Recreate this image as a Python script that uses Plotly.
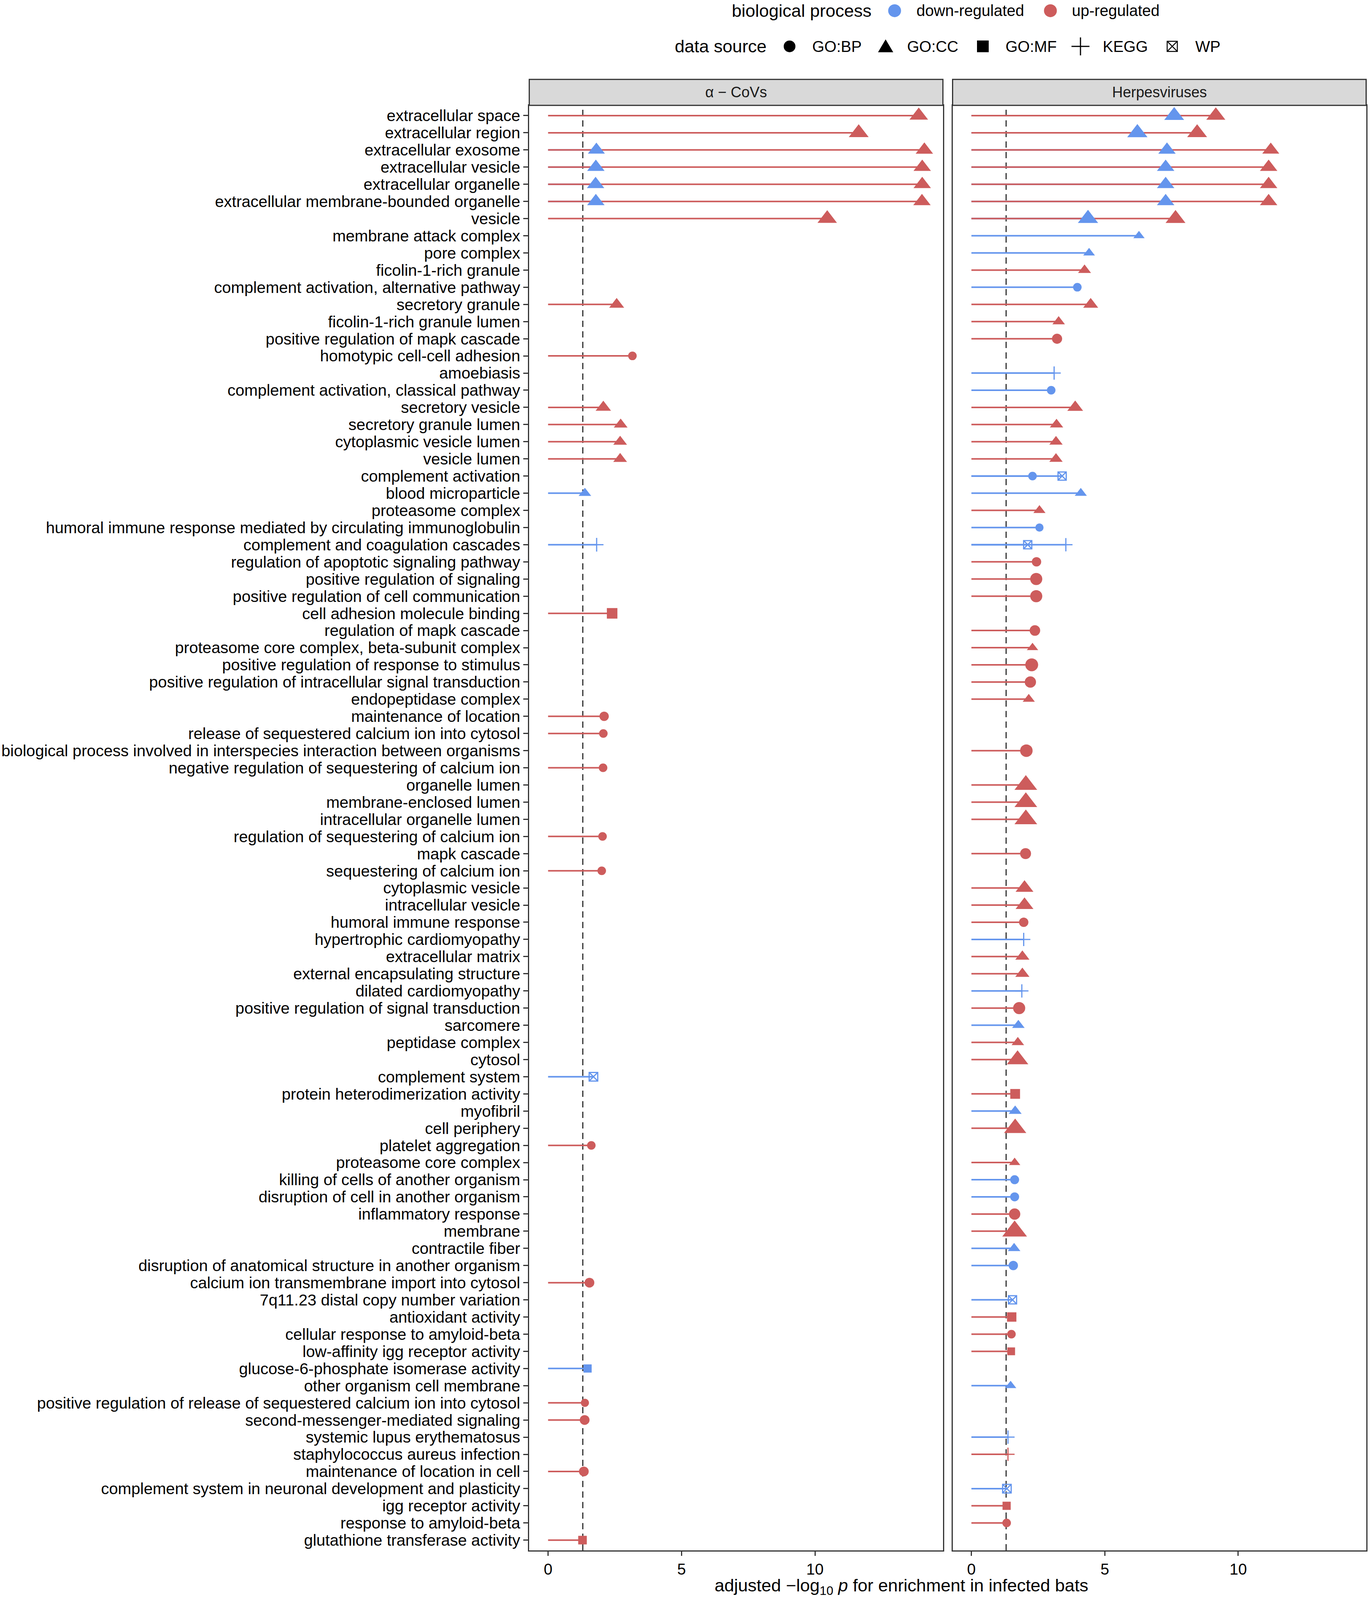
import math
import plotly.graph_objects as go

# reference frame (layout is designed in this frame and expressed as fractions)
W, H = 3511, 4937
FONT = "Liberation Sans, Arial, Helvetica, sans-serif"

# ---------------- data ----------------
terms = [
    "extracellular space", "extracellular region", "extracellular exosome", "extracellular vesicle",
    "extracellular organelle", "extracellular membrane-bounded organelle", "vesicle",
    "membrane attack complex", "pore complex", "ficolin-1-rich granule",
    "complement activation, alternative pathway", "secretory granule", "ficolin-1-rich granule lumen",
    "positive regulation of mapk cascade", "homotypic cell-cell adhesion", "amoebiasis",
    "complement activation, classical pathway", "secretory vesicle", "secretory granule lumen",
    "cytoplasmic vesicle lumen", "vesicle lumen", "complement activation", "blood microparticle",
    "proteasome complex", "humoral immune response mediated by circulating immunoglobulin",
    "complement and coagulation cascades", "regulation of apoptotic signaling pathway",
    "positive regulation of signaling", "positive regulation of cell communication",
    "cell adhesion molecule binding", "regulation of mapk cascade",
    "proteasome core complex, beta-subunit complex", "positive regulation of response to stimulus",
    "positive regulation of intracellular signal transduction", "endopeptidase complex",
    "maintenance of location", "release of sequestered calcium ion into cytosol",
    "biological process involved in interspecies interaction between organisms",
    "negative regulation of sequestering of calcium ion", "organelle lumen", "membrane-enclosed lumen",
    "intracellular organelle lumen", "regulation of sequestering of calcium ion", "mapk cascade",
    "sequestering of calcium ion", "cytoplasmic vesicle", "intracellular vesicle",
    "humoral immune response", "hypertrophic cardiomyopathy", "extracellular matrix",
    "external encapsulating structure", "dilated cardiomyopathy",
    "positive regulation of signal transduction", "sarcomere", "peptidase complex", "cytosol",
    "complement system", "protein heterodimerization activity", "myofibril", "cell periphery",
    "platelet aggregation", "proteasome core complex", "killing of cells of another organism",
    "disruption of cell in another organism", "inflammatory response", "membrane",
    "contractile fiber", "disruption of anatomical structure in another organism",
    "calcium ion transmembrane import into cytosol", "7q11.23 distal copy number variation",
    "antioxidant activity", "cellular response to amyloid-beta", "low-affinity igg receptor activity",
    "glucose-6-phosphate isomerase activity", "other organism cell membrane",
    "positive regulation of release of sequestered calcium ion into cytosol",
    "second-messenger-mediated signaling", "systemic lupus erythematosus",
    "staphylococcus aureus infection", "maintenance of location in cell",
    "complement system in neuronal development and plasticity", "igg receptor activity",
    "response to amyloid-beta", "glutathione transferase activity",
]

panel_names = ["α − CoVs", "Herpesviruses"]
x_ticks = [0, 5, 10]
p_threshold = 0.05

# alpha-CoVs
cov_term = [
    "extracellular space", "extracellular region",
    "extracellular exosome", "extracellular exosome",
    "extracellular vesicle", "extracellular vesicle",
    "extracellular organelle", "extracellular organelle",
    "extracellular membrane-bounded organelle", "extracellular membrane-bounded organelle",
    "vesicle", "secretory granule", "homotypic cell-cell adhesion", "secretory vesicle",
    "secretory granule lumen", "cytoplasmic vesicle lumen", "vesicle lumen", "blood microparticle",
    "complement and coagulation cascades", "cell adhesion molecule binding", "maintenance of location",
    "release of sequestered calcium ion into cytosol", "negative regulation of sequestering of calcium ion",
    "regulation of sequestering of calcium ion", "sequestering of calcium ion", "complement system",
    "platelet aggregation", "calcium ion transmembrane import into cytosol",
    "glucose-6-phosphate isomerase activity",
    "positive regulation of release of sequestered calcium ion into cytosol",
    "second-messenger-mediated signaling", "maintenance of location in cell",
    "glutathione transferase activity",
]
cov_value = [13.89, 11.64, 1.81, 14.10, 1.79, 14.02, 1.78, 14.02, 1.79, 14.01, 10.46, 2.57, 3.16,
             2.07, 2.72, 2.70, 2.70, 1.38, 1.82, 2.40, 2.10, 2.07, 2.06, 2.04, 2.01, 1.70, 1.62,
             1.55, 1.48, 1.38, 1.37, 1.34, 1.29]
cov_direction = ["up", "up", "down", "up", "down", "up", "down", "up", "down", "up", "up", "up", "up",
                 "up", "up", "up", "up", "down", "down", "up", "up", "up", "up", "up", "up", "down",
                 "up", "up", "down", "up", "up", "up", "up"]
cov_source = ["GO:CC", "GO:CC", "GO:CC", "GO:CC", "GO:CC", "GO:CC", "GO:CC", "GO:CC", "GO:CC", "GO:CC",
              "GO:CC", "GO:CC", "GO:BP", "GO:CC", "GO:CC", "GO:CC", "GO:CC", "GO:CC", "KEGG", "GO:MF",
              "GO:BP", "GO:BP", "GO:BP", "GO:BP", "GO:BP", "WP", "GO:BP", "GO:BP", "GO:MF", "GO:BP",
              "GO:BP", "GO:BP", "GO:MF"]
cov_size = [4.6, 4.9, 4.2, 4.3, 4.3, 4.3, 4.3, 4.3, 4.3, 4.3, 4.8, 3.7, 2.2, 3.8, 3.4, 3.4, 3.4, 3.1,
            3.5, 2.7, 2.4, 2.2, 2.2, 2.2, 2.2, 2.5, 2.2, 2.5, 2.1, 2.1, 2.5, 2.5, 2.2]

# Herpesviruses
her_term = [
    "extracellular space", "extracellular space", "extracellular region", "extracellular region",
    "extracellular exosome", "extracellular exosome", "extracellular vesicle", "extracellular vesicle",
    "extracellular organelle", "extracellular organelle",
    "extracellular membrane-bounded organelle", "extracellular membrane-bounded organelle",
    "vesicle", "vesicle", "membrane attack complex", "pore complex", "ficolin-1-rich granule",
    "complement activation, alternative pathway", "secretory granule", "ficolin-1-rich granule lumen",
    "positive regulation of mapk cascade", "amoebiasis", "complement activation, classical pathway",
    "secretory vesicle", "secretory granule lumen", "cytoplasmic vesicle lumen", "vesicle lumen",
    "complement activation", "complement activation", "blood microparticle", "proteasome complex",
    "humoral immune response mediated by circulating immunoglobulin",
    "complement and coagulation cascades", "complement and coagulation cascades",
    "regulation of apoptotic signaling pathway", "positive regulation of signaling",
    "positive regulation of cell communication", "regulation of mapk cascade",
    "proteasome core complex, beta-subunit complex", "positive regulation of response to stimulus",
    "positive regulation of intracellular signal transduction", "endopeptidase complex",
    "biological process involved in interspecies interaction between organisms", "organelle lumen",
    "membrane-enclosed lumen", "intracellular organelle lumen", "mapk cascade", "cytoplasmic vesicle",
    "intracellular vesicle", "humoral immune response", "hypertrophic cardiomyopathy",
    "extracellular matrix", "external encapsulating structure", "dilated cardiomyopathy",
    "positive regulation of signal transduction", "sarcomere", "peptidase complex", "cytosol",
    "protein heterodimerization activity", "myofibril", "cell periphery", "proteasome core complex",
    "killing of cells of another organism", "disruption of cell in another organism",
    "inflammatory response", "membrane", "contractile fiber",
    "disruption of anatomical structure in another organism", "7q11.23 distal copy number variation",
    "antioxidant activity", "cellular response to amyloid-beta", "low-affinity igg receptor activity",
    "other organism cell membrane", "systemic lupus erythematosus", "staphylococcus aureus infection",
    "complement system in neuronal development and plasticity", "igg receptor activity",
    "response to amyloid-beta",
]
her_value = [7.60, 9.16, 6.22, 8.46, 7.33, 11.22, 7.28, 11.14, 7.28, 11.14, 7.28, 11.14, 4.37, 7.65,
             6.28, 4.41, 4.24, 3.97, 4.47, 3.27, 3.21, 3.10, 2.99, 3.89, 3.19, 3.17, 3.17, 2.29, 3.40,
             4.10, 2.55, 2.55, 2.11, 3.54, 2.44, 2.43, 2.43, 2.38, 2.29, 2.26, 2.21, 2.15, 2.06, 2.04,
             2.04, 2.04, 2.03, 1.99, 1.99, 1.96, 1.96, 1.91, 1.91, 1.89, 1.79, 1.76, 1.74, 1.73, 1.64,
             1.64, 1.64, 1.62, 1.62, 1.62, 1.62, 1.62, 1.60, 1.57, 1.54, 1.51, 1.50, 1.49, 1.47, 1.37,
             1.37, 1.33, 1.32, 1.32]
her_direction = ["down", "up", "down", "up", "down", "up", "down", "up", "down", "up", "down", "up",
                 "down", "up", "down", "down", "up", "down", "up", "up", "up", "down", "down", "up",
                 "up", "up", "up", "down", "down", "down", "up", "down", "down", "down", "up", "up",
                 "up", "up", "up", "up", "up", "up", "up", "up", "up", "up", "up", "up", "up", "up",
                 "down", "up", "up", "down", "up", "down", "up", "up", "up", "down", "up", "up",
                 "down", "down", "up", "up", "down", "down", "down", "up", "up", "up", "down", "down",
                 "up", "down", "up", "up"]
her_source = ["GO:CC"] * 17 + [
    "GO:BP", "GO:CC", "GO:CC", "GO:BP", "KEGG", "GO:BP", "GO:CC", "GO:CC", "GO:CC", "GO:CC",
    "GO:BP", "WP", "GO:CC", "GO:CC", "GO:BP", "WP", "KEGG", "GO:BP", "GO:BP", "GO:BP", "GO:BP",
    "GO:CC", "GO:BP", "GO:BP", "GO:CC", "GO:BP", "GO:CC", "GO:CC", "GO:CC", "GO:BP", "GO:CC",
    "GO:CC", "GO:BP", "KEGG", "GO:CC", "GO:CC", "KEGG", "GO:BP", "GO:CC", "GO:CC", "GO:CC",
    "GO:MF", "GO:CC", "GO:CC", "GO:CC", "GO:BP", "GO:BP", "GO:BP", "GO:CC", "GO:CC", "GO:BP",
    "WP", "GO:MF", "GO:BP", "GO:MF", "GO:CC", "KEGG", "KEGG", "WP", "GO:MF", "GO:BP"]
her_size = [4.9, 4.7, 5.0, 4.9, 4.3, 4.2, 4.3, 4.3, 4.3, 4.3, 4.3, 4.3, 5.0, 4.9, 2.8, 2.9, 3.2,
            2.2, 3.7, 3.1, 2.6, 3.4, 2.2, 3.9, 3.3, 3.3, 3.3, 2.2, 2.4, 3.0, 3.0, 2.1, 2.4, 3.4,
            2.4, 3.1, 3.1, 2.7, 2.8, 3.3, 2.9, 3.0, 3.2, 5.6, 5.6, 5.6, 2.8, 4.4, 4.4, 2.4, 3.4,
            3.5, 3.5, 3.4, 3.1, 3.1, 3.1, 5.3, 2.5, 3.2, 5.5, 2.8, 2.3, 2.3, 2.9, 6.1, 3.1, 2.4,
            2.4, 2.4, 2.2, 2.0, 2.8, 3.4, 3.4, 2.5, 2.1, 2.2]

# ---------------- styles ----------------
DIR_COLOR = {"down": "#6495ED", "up": "#CD5C5C"}
DIR_LABEL = {"down": "down-regulated", "up": "up-regulated"}
SOURCES = ["GO:BP", "GO:CC", "GO:MF", "KEGG", "WP"]
SYMBOL = {"GO:BP": "circle", "GO:CC": "triangle-up", "GO:MF": "square",
          "KEGG": "cross-thin-open", "WP": "square-x-open"}


def marker_px(src, s):
    w = s * 10.0
    if src == "GO:CC":
        return w * 0.9
    if src == "KEGG":
        return w / 1.4
    if src == "WP":
        return w - 3
    return w


def px_x(v):
    return v / W


def px_y(v):
    return 1 - v / H


panel_x_px = [(1355.4, 2414.7), (2439.5, 3498.6)]
panel_top_px, panel_bottom_px = 325, 4784
strip_top_px = 245

fig = go.Figure()

panels = [
    (cov_term, cov_value, cov_direction, cov_source, cov_size, "x", "y"),
    (her_term, her_value, her_direction, her_source, her_size, "x2", "y2"),
]

for terms_p, vals, dirs, srcs, sizes, xa, ya in panels:
    for d in ["down", "up"]:
        xs, ys = [], []
        for t, v, dd in zip(terms_p, vals, dirs):
            if dd == d:
                xs += [0, v, None]
                ys += [t, t, None]
        fig.add_trace(go.Scatter(x=xs, y=ys, mode="lines", xaxis=xa, yaxis=ya,
                                 line=dict(color=DIR_COLOR[d], width=4),
                                 hoverinfo="skip", showlegend=False))
    for d in ["down", "up"]:
        for s in SOURCES:
            idx = [i for i in range(len(vals)) if dirs[i] == d and srcs[i] == s]
            if not idx:
                continue
            is_open = s in ("KEGG", "WP")
            fig.add_trace(go.Scatter(
                x=[vals[i] for i in idx], y=[terms_p[i] for i in idx],
                mode="markers", xaxis=xa, yaxis=ya,
                name=f"{DIR_LABEL[d]} {s}",
                marker=dict(symbol=SYMBOL[s], color=DIR_COLOR[d], opacity=1,
                            size=[marker_px(s, sizes[i]) for i in idx],
                            line=dict(color=DIR_COLOR[d], width=3 if is_open else 0)),
                showlegend=False, cliponaxis=False))

axis_common = dict(showgrid=False, zeroline=False, showline=True, mirror=True,
                   linecolor="#333333", linewidth=3)
xrange = [-0.705, 14.795]
yrange = [len(terms) - 1 + 0.6, -0.6]
ydom = [px_y(panel_bottom_px), px_y(panel_top_px)]
xtick_font = dict(size=40, color="black")

fig.update_layout(
    autosize=True,
    margin=dict(l=0, r=0, t=0, b=0, autoexpand=False),
    paper_bgcolor="white", plot_bgcolor="white",
    showlegend=False,
    font=dict(family=FONT, color="black"),
    xaxis=dict(domain=[px_x(panel_x_px[0][0]), px_x(panel_x_px[0][1])], range=xrange,
               anchor="y", tickmode="array", tickvals=x_ticks, ticks="outside", ticklen=11,
               tickwidth=3, tickcolor="#333333", tickfont=xtick_font,
               automargin=False, **axis_common),
    xaxis2=dict(domain=[px_x(panel_x_px[1][0]), px_x(panel_x_px[1][1])], range=xrange,
                anchor="y2", tickmode="array", tickvals=x_ticks, ticks="outside", ticklen=11,
                tickwidth=3, tickcolor="#333333", tickfont=xtick_font,
                automargin=False, **axis_common),
    yaxis=dict(domain=ydom, type="category", categoryorder="array", categoryarray=terms,
               range=yrange, anchor="x", tickmode="array", tickvals=terms, ticktext=terms,
               ticks="outside", ticklen=12, tickwidth=3, tickcolor="#333333",
               tickfont=dict(size=41, color="black"), automargin=False, **axis_common),
    yaxis2=dict(domain=ydom, type="category", categoryorder="array", categoryarray=terms,
                range=yrange, anchor="x2", matches="y", showticklabels=False, ticks="",
                automargin=False, **axis_common),
)

shapes = []
annotations = []
thr = -math.log10(p_threshold)
for xa, ya in [("x", "y"), ("x2", "y2")]:
    shapes.append(dict(type="line", xref=xa, yref=f"{ya} domain",
                       x0=thr, x1=thr, y0=0, y1=1, layer="below",
                       line=dict(color="#333333", width=3, dash="16px,11px")))

for (x0, x1), name in zip(panel_x_px, panel_names):
    shapes.append(dict(type="rect", xref="paper", yref="paper",
                       x0=px_x(x0), x1=px_x(x1), y0=px_y(panel_top_px), y1=px_y(strip_top_px),
                       fillcolor="#D9D9D9", line=dict(color="#333333", width=3), layer="above"))
    annotations.append(dict(text=name, xref="paper", yref="paper",
                            x=px_x((x0 + x1) / 2), y=px_y((panel_top_px + strip_top_px) / 2),
                            xanchor="center", yanchor="middle", showarrow=False,
                            font=dict(size=38, color="#1A1A1A", family=FONT)))

annotations.append(dict(
    text="adjusted −log<sub>10</sub> <i>p</i> for enrichment in infected bats",
    xref="paper", yref="paper", x=px_x(2308), y=px_y(4896), xanchor="center", yanchor="middle",
    showarrow=False, font=dict(size=45, color="black", family=FONT)))


# ---------------- legend (drawn with pixel-sized glyphs) ----------------
def legend_text(txt, x, y, size):
    annotations.append(dict(text=txt, xref="paper", yref="paper", x=px_x(x), y=px_y(y),
                            xanchor="left", yanchor="middle", showarrow=False,
                            font=dict(size=size, color="black", family=FONT)))


def glyph(kind, cx, cy, **kw):
    base = dict(xref="paper", yref="paper", xsizemode="pixel", ysizemode="pixel",
                xanchor=px_x(cx), yanchor=px_y(cy))
    base.update(kw)
    base["type"] = kind
    shapes.append(base)


ROW1, ROW2 = 33, 143
LT, LI = 45, 40
legend_text("biological process", 1872, ROW1, LT)
glyph("circle", 2291, ROW1, x0=-16.5, x1=16.5, y0=-16.5, y1=16.5,
      fillcolor=DIR_COLOR["down"], line=dict(width=0))
legend_text(DIR_LABEL["down"], 2345, ROW1, LI)
glyph("circle", 2690, ROW1, x0=-16.5, x1=16.5, y0=-16.5, y1=16.5,
      fillcolor=DIR_COLOR["up"], line=dict(width=0))
legend_text(DIR_LABEL["up"], 2743, ROW1, LI)

legend_text("data source", 1726, ROW2, LT)
glyph("circle", 2022, ROW2, x0=-15, x1=15, y0=-15, y1=15, fillcolor="black", line=dict(width=0))
legend_text("GO:BP", 2078, ROW2, LI)
glyph("path", 2268, ROW2, path="M -19.5,-15 L 19.5,-15 L 0,18 Z", fillcolor="black",
      line=dict(width=0))
legend_text("GO:CC", 2321, ROW2, LI)
glyph("rect", 2517, ROW2, x0=-15, x1=15, y0=-15, y1=15, fillcolor="black", line=dict(width=0))
legend_text("GO:MF", 2573, ROW2, LI)
glyph("path", 2767, ROW2, path="M -23,0 L 23,0 M 0,-23 L 0,23", line=dict(color="black", width=3))
legend_text("KEGG", 2822, ROW2, LI)
glyph("path", 3002, ROW2, path="M -13,-13 L 13,-13 L 13,13 L -13,13 Z M -13,-13 L 13,13 M -13,13 L 13,-13",
      line=dict(color="black", width=2.5))
legend_text("WP", 3059, ROW2, LI)

fig.update_layout(shapes=shapes, annotations=annotations)

post = """
document.documentElement.style.margin='0';
document.body.style.margin='0';
document.body.style.overflow='hidden';
var gd = document.getElementById('{plot_id}');
gd.style.width='100vw'; gd.style.height='100vh';
Plotly.Plots.resize(gd);
"""

fig.write_html("out.html", config={"responsive": True, "displayModeBar": False},
               default_width="100vw", default_height="100vh", post_script=post)
